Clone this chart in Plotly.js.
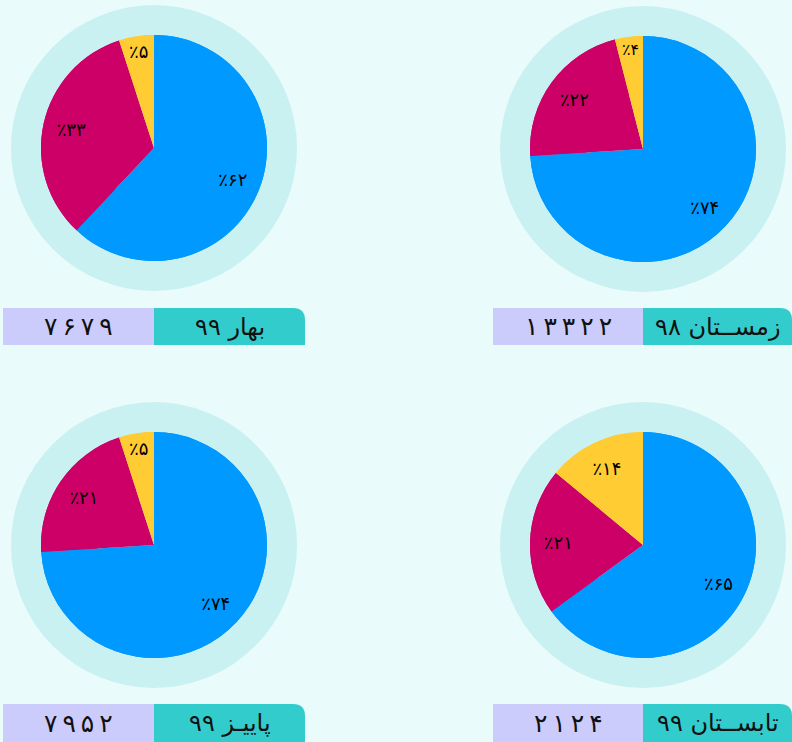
<!DOCTYPE html>
<html><head><meta charset="utf-8">
<script src="https://cdn.plot.ly/plotly-3.0.1.min.js"></script>
<style>html,body{margin:0;padding:0;background:#e9fbfb;}#c{width:792px;height:742px;}</style>
</head><body><div id="c"></div>
<script>
// Data
const seasons = ['بهار ۹۹', 'زمســتان ۹۸', 'پاییـز ۹۹', 'تابســتان ۹۹'];
const totals = [7679, 13322, 7952, 2124];
const sliceNames = ['الف', 'ب', 'ج'];
const springShares = [62, 33, 5];
const winterShares = [74, 22, 4];
const fallShares = [74, 21, 5];
const summerShares = [65, 21, 14];
const sharesList = [springShares, winterShares, fallShares, summerShares];
const sliceColors = ['#0099ff', '#cc0066', '#ffcc33'];

const W = 792, H = 742;
const fa = n => String(n).replace(/[0-9]/g, d => '۰۱۲۳۴۵۶۷۸۹'[+d]);
const px = x => x / W, py = y => 1 - y / H;

// panel geometry (pixel centres)
const panels = [
  {cx: 154, cy: 148, bx0: 3, bsplit: 154, bx1: 305, by0: 308, by1: 345},
  {cx: 643, cy: 149, bx0: 493, bsplit: 643, bx1: 792, by0: 308, by1: 345},
  {cx: 154, cy: 545, bx0: 3, bsplit: 154, bx1: 305, by0: 704, by1: 742},
  {cx: 643, cy: 545, bx0: 493, bsplit: 643, bx1: 792, by0: 704, by1: 742}
];
const R = 113, HALO = 143;

const traces = [], shapes = [], annotations = [];
panels.forEach((p, i) => {
  const vals = sharesList[i];
  const dom = {x: [px(p.cx - R), px(p.cx + R)], y: [py(p.cy + R), py(p.cy - R)]};
  // full pie (fill)
  traces.push({
    type: 'pie', values: vals, labels: sliceNames, sort: false,
    direction: 'clockwise', rotation: 0,
    marker: {colors: sliceColors, line: {width: 0}},
    textinfo: 'none', hoverinfo: 'none', showlegend: false, domain: dom
  });
  // ring overlay carrying the labels further out
  traces.push({
    type: 'pie', values: vals, labels: sliceNames, sort: false, hole: 0.5,
    direction: 'clockwise', rotation: 0,
    marker: {colors: sliceColors, line: {width: 0}},
    text: vals.map(v => '٪' + fa(v)), textinfo: 'text',
    textposition: 'inside', insidetextorientation: 'horizontal',
    textfont: {family: 'DejaVu Sans', size: 18, color: '#000'},
    hoverinfo: 'none', showlegend: false, domain: dom
  });
  shapes.push({type: 'circle', xref: 'paper', yref: 'paper', layer: 'below',
    x0: px(p.cx - HALO), x1: px(p.cx + HALO), y0: py(p.cy + HALO), y1: py(p.cy - HALO),
    fillcolor: '#c9f1f2', line: {width: 0}});
  // left (lavender) box
  shapes.push({type: 'rect', xref: 'paper', yref: 'paper',
    x0: px(p.bx0), x1: px(p.bsplit), y0: py(p.by1), y1: py(p.by0),
    fillcolor: '#ccccfc', line: {width: 0}});
  // right (turquoise) box with rounded top-right corner
  const r = 12;
  const X = v => (v / W).toFixed(5), Y = v => (1 - v / H).toFixed(5);
  shapes.push({type: 'path', xref: 'paper', yref: 'paper',
    path: `M${X(p.bsplit)},${Y(p.by1)} L${X(p.bsplit)},${Y(p.by0)} L${X(p.bx1 - r)},${Y(p.by0)} Q${X(p.bx1)},${Y(p.by0)} ${X(p.bx1)},${Y(p.by0 + r)} L${X(p.bx1)},${Y(p.by1)} Z`,
    fillcolor: '#33cccc', line: {width: 0}});
  const ym = py((p.by0 + p.by1) / 2);
  annotations.push({xref: 'paper', yref: 'paper', x: px((p.bx0 + p.bsplit) / 2), y: ym,
    text: fa(totals[i]).split('').join('\u2009'), showarrow: false, xanchor: 'center', yanchor: 'middle',
    font: {family: 'DejaVu Sans', size: 25, color: '#111'}});
  annotations.push({xref: 'paper', yref: 'paper', x: px((p.bsplit + p.bx1) / 2), y: ym,
    text: seasons[i], showarrow: false, xanchor: 'center', yanchor: 'middle',
    font: {family: 'DejaVu Sans', size: 24, color: '#111'}});
});

Plotly.newPlot('c', traces, {
  width: W, height: H, margin: {l: 0, r: 0, t: 0, b: 0},
  paper_bgcolor: '#e9fbfb', plot_bgcolor: '#e9fbfb',
  shapes: shapes, annotations: annotations
}, {displayModeBar: false, staticPlot: true});
</script></body></html>
